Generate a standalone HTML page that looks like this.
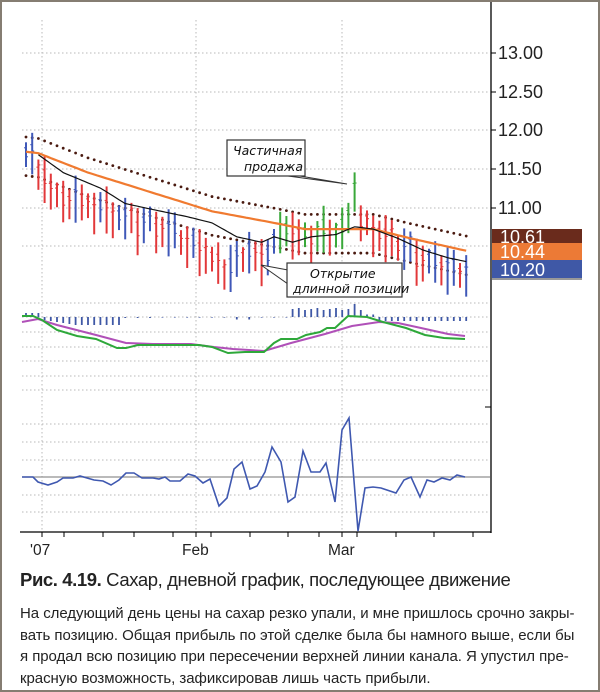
<!DOCTYPE html>
<html><head><meta charset="utf-8">
<style>
html,body{margin:0;padding:0;background:#fff;}
#wrap{position:relative;width:596px;height:688px;border:2px solid #857d72;overflow:hidden;background:#fff;}
svg{position:absolute;left:-2px;top:-2px;}
.cap{position:absolute;left:18px;font-family:"Liberation Sans","DejaVu Sans",sans-serif;color:#222;white-space:nowrap;}
</style></head><body>
<div id="wrap">
<svg id="s" width="600" height="692" xmlns="http://www.w3.org/2000/svg"></svg>
<div class="cap" style="top:567px;font-size:18.5px;letter-spacing:-0.4px;"><b>Рис. 4.19.</b> Сахар, дневной график, последующее движение</div>
<div class="cap" style="top:601px;font-size:15px;line-height:21.5px;letter-spacing:-0.05px;">На следующий день цены на сахар резко упали, и мне пришлось срочно закры-<br>вать позицию. Общая прибыль по этой сделке была бы намного выше, если бы<br>я продал всю позицию при пересечении верхней линии канала. Я упустил пре-<br>красную возможность, зафиксировав лишь часть прибыли.</div>
</div>
<script>
var s=document.getElementById('s'),h='';
function Y(p){return 130+(12-p)*77.4;}
function X(i){return 26+i*6.2;}
var g='stroke="#b8b8b8" stroke-width="1" stroke-dasharray="1.5,2.5"';
[53,92,130,169,208,246].forEach(function(y){h+='<line x1="22" x2="490" y1="'+y+'" y2="'+y+'" '+g+'/>';});
[303,317,332,347,361,376,390,424,442,460,495,512].forEach(function(y){h+='<line x1="22" x2="490" y1="'+y+'" y2="'+y+'" '+g+'/>';});
[42,196,342].forEach(function(x){h+='<line x1="'+x+'" x2="'+x+'" y1="20" y2="532" '+g+'/>';});
h+='<line x1="22" x2="490" y1="477" y2="477" stroke="#909090" stroke-width="1.3"/>';
h+='<line x1="491" x2="491" y1="0" y2="533" stroke="#000" stroke-width="1.3"/>';
h+='<line x1="20" x2="491" y1="532" y2="532" stroke="#000" stroke-width="1.3"/>';
h+='<line x1="485" x2="491" y1="407" y2="407" stroke="#000"/>';
[42,64,103,134,173,196,211,250,288,319,342,357,396,434,473].forEach(function(x){h+='<line x1="'+x+'" x2="'+x+'" y1="532" y2="537" stroke="#000"/>';});
[['13.00',53],['12.50',92],['12.00',130],['11.50',169],['11.00',208]].forEach(function(a){h+='<line x1="491" x2="496" y1="'+a[1]+'" y2="'+a[1]+'" stroke="#000"/><text x="498" y="'+(a[1]+6)+'" font-family="Liberation Sans,sans-serif" font-size="18" fill="#222">'+a[0]+'</text>';});
h+='<rect x="492" y="229" width="90" height="14" fill="#6a2b1c"/><text x="500" y="243" font-family="Liberation Sans,sans-serif" font-size="18" fill="#fff">10.61</text>';
h+='<rect x="492" y="243" width="90" height="17" fill="#ec7a36"/><text x="500" y="258" font-family="Liberation Sans,sans-serif" font-size="18" fill="#fff">10.44</text>';
h+='<rect x="492" y="260" width="90" height="18" fill="#3f58a6"/><text x="500" y="276" font-family="Liberation Sans,sans-serif" font-size="18" fill="#fff">10.20</text>';
h+='<line x1="492" x2="582" y1="279" y2="279" stroke="#333"/>';
[["'07",30],['Feb',182],['Mar',328]].forEach(function(a){h+='<text x="'+a[1]+'" y="555" font-family="Liberation Sans,sans-serif" font-size="15.5" fill="#222">'+a[0]+'</text>';});
var K=[[0,11.78],[1,11.78],[2,11.45],[4,11.3],[6,11.1],[8,11.2],[10,11.0],[12,11.05],[14,10.95],[16,10.9],[18,10.8],[20,10.85],[22,10.75],[24,10.7],[26,10.55],[28,10.55],[30,10.35],[32,10.22],[34,10.35],[36,10.5],[38,10.3],[40,10.6],[42,10.8],[44,10.65],[46,10.6],[48,10.75],[50,10.7],[52,10.85],[53,11.3],[54,10.85],[56,10.75],[58,10.65],[60,10.55],[62,10.5],[64,10.35],[66,10.3],[68,10.25],[70,10.22],[71,10.2]];
function interp(K,i){for(var k=0;k<K.length-1;k++){if(i>=K[k][0]&&i<=K[k+1][0]){var t=(i-K[k][0])/(K[k+1][0]-K[k][0]);return K[k][1]+t*(K[k+1][1]-K[k][1]);}}return K[K.length-1][1];}
var mid=[];for(var i=0;i<72;i++){mid.push(interp(K,i)+((i*37)%7-3)*0.02);}
var emaK=[[0,11.72],[2,11.7],[10,11.45],[20,11.2],[30,10.95],[40,10.8],[45,10.72],[53,10.72],[56,10.72],[62,10.6],[71,10.44]];
var blK=[[2,11.68],[6,11.45],[12,11.25],[16,11.05],[20,10.98],[26,10.88],[30,10.8],[34,10.62],[38,10.55],[40,10.62],[43,10.55],[46,10.62],[50,10.65],[53,10.75],[56,10.72],[60,10.6],[64,10.45],[68,10.35],[71,10.3]];
function line(K,c,w){var d='';for(var i=K[0][0];i<=K[K.length-1][0];i+=0.5){d+=(d?'L':'M')+X(i).toFixed(1)+','+Y(interp(K,i)).toFixed(1);}return '<path d="'+d+'" fill="none" stroke="'+c+'" stroke-width="'+w+'"/>';}
for(var i=0;i<72;i++){var e=interp(emaK,i);h+='<circle cx="'+X(i)+'" cy="'+Y(e+0.19)+'" r="1.4" fill="#4a1a10"/><circle cx="'+X(i)+'" cy="'+Y(e-0.31)+'" r="1.4" fill="#4a1a10"/>';}
for(var i=0;i<72;i++){var m=mid[i],r=0.22+((i*13)%5)*0.05;if(i==53)r=0.35;
 var c=(i>0&&m<mid[i-1])?'#e2383a':'#3f58b8';if(i>=41&&i<=53&&m>=mid[i-1])c='#3aa83a';if(i==53)c='#3aa83a';
 var hi=m+r*0.55,lo=m-r*0.9,x=X(i),cl=m-r*0.3+((i*7)%3)*0.08;
 h+='<line x1="'+x+'" x2="'+x+'" y1="'+Y(hi)+'" y2="'+Y(lo)+'" stroke="'+c+'" stroke-width="2"/>';
 h+='<line x1="'+(x-2)+'" x2="'+x+'" y1="'+Y(m+0.05)+'" y2="'+Y(m+0.05)+'" stroke="'+c+'" stroke-width="1"/><line x1="'+x+'" x2="'+(x+2)+'" y1="'+Y(cl)+'" y2="'+Y(cl)+'" stroke="'+c+'" stroke-width="1"/>';}
h+=line(emaK,'#f07a30',2.2);
h+=line(blK,'#111',1.2);
for(var i=0;i<72;i++){var v;var x=X(i);
 if(i<3)v=-4;else if(i<16)v=3+Math.min(i-3,5)*1;else if(i<22)v=1;else if(i<33)v=0.6;else if(i<38)v=2.5;else if(i<43)v=0.6;else if(i<55)v=-(7+(i%3)+(i==53?4:0));else if(i<57)v=-2.5;else v=4;
 if(i>=16&&i<43&&i%2)continue;
 h+='<line x1="'+x+'" x2="'+x+'" y1="317" y2="'+(317+v)+'" stroke="#3f58a6" stroke-width="1.8"/>';}
function poly(p,c,w){return '<polyline points="'+p+'" fill="none" stroke="'+c+'" stroke-width="'+w+'"/>';}
h+=poly('22,322 38,319 57,325 96,335 126,343 153,344 191,344 214,347 233,349 264,351 291,343 325,334 352,326 379,322 398,323 421,328 448,334 465,336','#b050b8',2);
h+=poly('22,316 33,316 42,320 57,330 77,336 96,339 117,348 126,348 138,345 172,345 199,345 212,347 228,353 245,352 264,352 274,343 281,339 297,339 306,335 320,332 327,328 335,328 348,316 367,317 383,322 406,328 425,335 444,338 465,339','#2ea83a',2);
h+=poly('22,477 33,477 38,482 48,485 57,482 63,478 73,478 80,476 94,480 103,481 111,485 119,480 126,473 134,473 142,478 153,478 159,479 165,477 170,481 180,481 188,474 195,476 203,483 210,479 219,506 227,498 234,469 242,462 250,489 257,486 265,472 272,447 281,462 288,502 295,497 303,451 311,472 320,472 326,463 335,502 342,430 349,418 358,531 365,488 373,487 381,488 396,493 404,480 411,477 420,497 427,480 434,482 442,478 450,480 457,475 465,477','#3f58b0',1.6);
var af='font-family="DejaVu Sans,Liberation Sans,sans-serif" font-style="italic" font-size="12.5" fill="#111"';
h+='<polygon points="288,176 347,184 300,176" fill="#fff" stroke="#333"/>';
h+='<rect x="227" y="140" width="78" height="36" fill="#fff" stroke="#333" stroke-width="1.2"/>';
h+='<text x="233" y="155" '+af+'>Частичная</text><text x="244" y="171" '+af+'>продажа</text>';
h+='<polygon points="288,270 261,265 288,284" fill="#fff" stroke="#333"/>';
h+='<rect x="287" y="263" width="115" height="34" fill="#fff" stroke="#333" stroke-width="1.2"/>';
h+='<text x="310" y="278" '+af+'>Открытие</text><text x="293" y="293" '+af+'>длинной позиции</text>';
s.innerHTML=h;
</script>
</body></html>
